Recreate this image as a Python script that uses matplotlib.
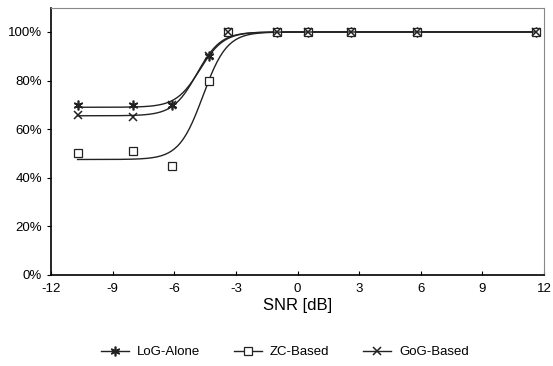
import numpy as np
import matplotlib.pyplot as plt

plt.rcParams['font.family'] = ['Liberation Sans', 'DejaVu Sans']
plt.rcParams['axes.unicode_minus'] = False

# SNR values (dB) and detection rate (%)
snr = [-10.7, -8.0, -6.1, -4.3, -3.4, -1.0, 0.5, 2.6, 5.8, 11.6]
log_alone = [70, 70, 70, 90, 100, 100, 100, 100, 100, 100]
zc_based = [50, 51, 45, 80, 100, 100, 100, 100, 100, 100]
gog_based = [66, 65, 70, 90, 100, 100, 100, 100, 100, 100]


def fit_logistic(x, y, s_min=0.58):
    """crude grid search for y = a + (100-a)/(1+exp(-(x-x0)/s)), s kept soft"""
    x = np.asarray(x, float)
    y = np.asarray(y, float)
    best = None
    for a in np.arange(40, 75, 0.5):
        for x0 in np.arange(-7, -3, 0.05):
            for s in np.arange(s_min, 1.5, 0.02):
                f = a + (100 - a) / (1 + np.exp(-(x - x0) / s))
                err = np.sum((f - y) ** 2)
                if best is None or err < best[0]:
                    best = (err, a, x0, s)
    _, a, x0, s = best
    return lambda t: a + (100 - a) / (1 + np.exp(-(t - x0) / s))


fig = plt.figure(figsize=(5.53, 3.66), dpi=100)
ax = fig.add_axes([0.092, 0.249, 0.892, 0.73])

c = '#222222'
xs = np.linspace(snr[0], snr[-1], 300)
series = [
    ('LoG-Alone', log_alone, dict(marker=(6, 2, 0), markersize=7, markeredgewidth=1.2)),
    ('ZC-Based', zc_based, dict(marker='s', markersize=6, markerfacecolor='white', markeredgewidth=0.9)),
    ('GoG-Based', gog_based, dict(marker='x', markersize=6, markeredgewidth=1.1)),
]
handles = []
for name, vals, mk in series:
    f = fit_logistic(snr, vals)
    ax.plot(xs, f(xs), color=c, linewidth=1.0)
    ax.plot(snr, vals, linestyle='none', color=c, markeredgecolor=c, **mk)
    h, = ax.plot([], [], color=c, linewidth=1.0, markeredgecolor=c, label=name, **mk)
    handles.append(h)

ax.set_xlim(-12, 12)
ax.set_ylim(0, 110)
ax.set_xticks(range(-12, 13, 3))
ax.set_yticks(range(0, 101, 20))
ax.set_yticklabels(['%d%%' % v for v in range(0, 101, 20)])
ax.tick_params(axis='x', direction='in', length=3, labelsize=9.5, pad=6)
ax.tick_params(axis='y', direction='out', length=3, labelsize=9.5)
for s in ['top', 'right']:
    ax.spines[s].set_color('#888888')
ax.spines['left'].set_linewidth(1.2)
ax.spines['bottom'].set_linewidth(1.2)

ax.set_xlabel('SNR [dB]', fontsize=12, labelpad=2)

fig.legend(handles=handles, loc='center', bbox_to_anchor=(0.515, 0.038), ncol=3,
           frameon=False, fontsize=9.5, handlelength=2.1, handletextpad=0.6,
           columnspacing=2.6)

plt.savefig('out.png', dpi=100)
